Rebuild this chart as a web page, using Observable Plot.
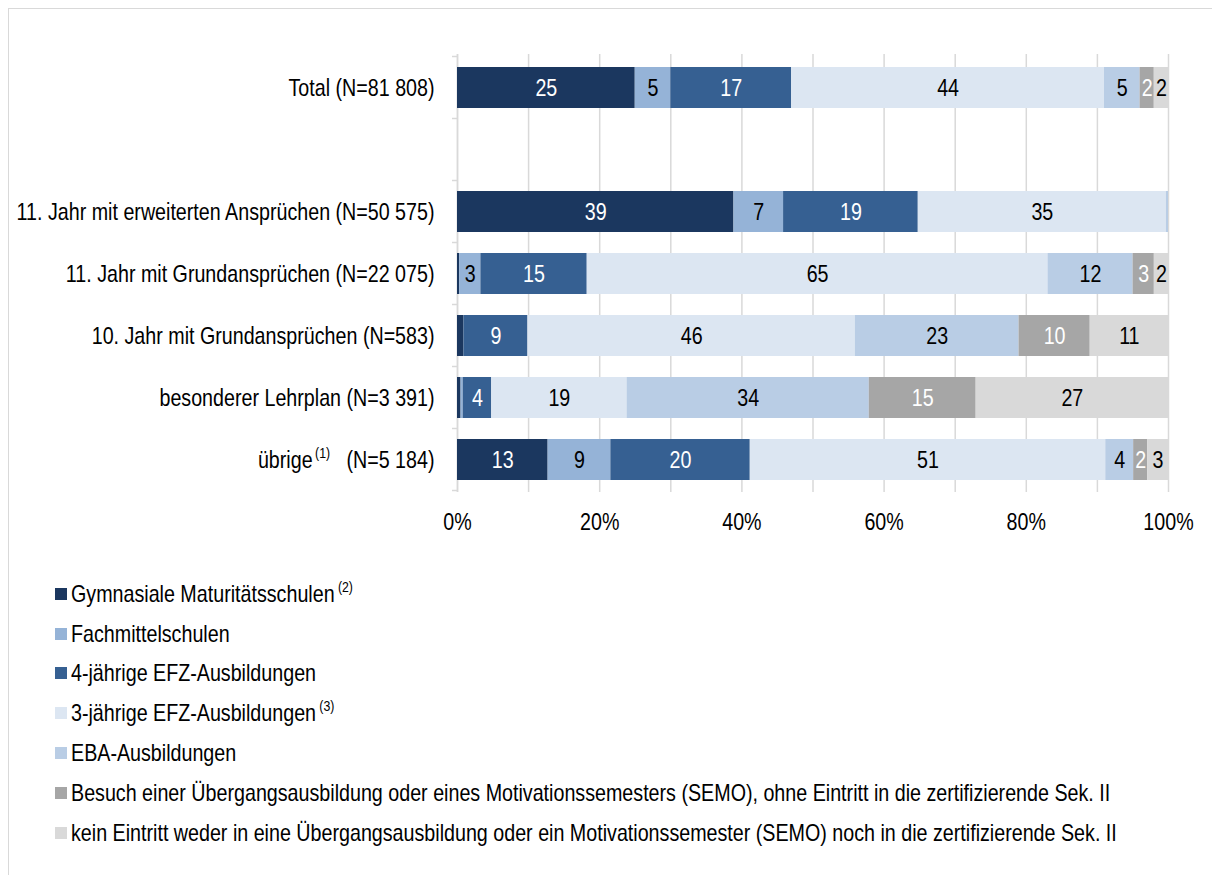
<!DOCTYPE html>
<html><head><meta charset="utf-8">
<script src="https://cdn.jsdelivr.net/npm/d3@7"></script>
<script src="https://cdn.jsdelivr.net/npm/@observablehq/plot@0.6"></script>
<style>
body{margin:0;background:#fff;font-family:'Liberation Sans',Arial,sans-serif;}
#frame{position:absolute;left:8px;top:8px;width:1230px;height:900px;border:1px solid #d9d9d9;box-sizing:border-box;}
#chart{position:absolute;left:0;top:0;}
#legend{position:absolute;left:55px;top:574px;}
.item{height:39.8px;display:flex;align-items:center;font-size:24px;color:#000;white-space:nowrap;}
.sw{width:12px;height:12px;margin-right:4px;flex:none}
.lbl{display:inline-block;transform:scaleX(0.82);transform-origin:0 50%;}
.sup{font-size:15px;position:relative;top:-10px;margin-left:4px}
</style>
</head><body>
<div id="frame"></div>
<div id="chart"></div>
<div id="legend"></div>
<script>
const categories = ["Total (N=81 808)", "", "11. Jahr mit erweiterten Ansprüchen (N=50 575)", "11. Jahr mit Grundansprüchen (N=22 075)", "10. Jahr mit Grundansprüchen (N=583)", "besonderer Lehrplan (N=3 391)", "übrige (N=5 184)"];
const rows = ["Total (N=81 808)", "11. Jahr mit erweiterten Ansprüchen (N=50 575)", "11. Jahr mit Grundansprüchen (N=22 075)", "10. Jahr mit Grundansprüchen (N=583)", "besonderer Lehrplan (N=3 391)", "übrige (N=5 184)"];
const series = ["Gymnasiale Maturitätsschulen", "Fachmittelschulen", "4-jährige EFZ-Ausbildungen", "3-jährige EFZ-Ausbildungen", "EBA-Ausbildungen", "Besuch einer Übergangsausbildung oder eines Motivationssemesters (SEMO), ohne Eintritt in die zertifizierende Sek. II", "kein Eintritt weder in eine Übergangsausbildung oder ein Motivationssemester (SEMO) noch in die zertifizierende Sek. II"];
const seriesNotes = ["(2)", "", "", "(3)", "", "", ""];
const colors = ["#1b375f", "#95b3d7", "#366092", "#dce6f2", "#b9cde5", "#a6a6a6", "#d9d9d9"];
const whiteLabelSeries = ["Gymnasiale Maturitätsschulen", "4-jährige EFZ-Ausbildungen", "Besuch einer Übergangsausbildung oder eines Motivationssemesters (SEMO), ohne Eintritt in die zertifizierende Sek. II"];

const gymnasium    = [25, 39, 0.3, 0.9, 0.5, 13];
const fachmittel   = [5, 7, 3, 0, 0.3, 9];
const efz4         = [17, 19, 15, 9, 4, 20];
const efz3         = [44, 35, 65, 46, 19, 51];
const eba          = [5, 0.3, 12, 23, 34, 4];
const uebergang    = [2, 0, 3, 10, 15, 2];
const keinEintritt = [2, 0, 2, 11, 27, 3];
const xTicks = [0, 0.2, 0.4, 0.6, 0.8, 1];
const gridTicks = [0, 0.1, 0.2, 0.3, 0.4, 0.5, 0.6, 0.7, 0.8, 0.9, 1];

const seriesValues = [gymnasium, fachmittel, efz4, efz3, eba, uebergang, keinEintritt];
const data = [];
rows.forEach((r, i) => seriesValues.forEach((arr, j) => data.push({row: r, series: series[j], value: arr[i]})));

const FONT = "'Liberation Sans',Arial,sans-serif";
const CONDENSE = 0.82;
const labelText = (white) => d => (d.value >= 2 && whiteLabelSeries.includes(d.series) === white) ? String(Math.round(d.value)) : "";

const plot = Plot.plot({
  width: 1212, height: 540,
  marginLeft: 457, marginRight: 44, marginTop: 54, marginBottom: 48,
  style: {fontFamily: FONT, fontSize: "24px", background: "transparent", color: "#000", overflow: "visible"},
  x: {domain: [0, 1]},
  y: {domain: categories, paddingInner: 0.345, paddingOuter: 0.1725},
  color: {domain: series, range: colors},
  marks: [
    Plot.gridX(gridTicks, {stroke: "#d9d9d9", strokeOpacity: 1, strokeWidth: 1.5}),
    Plot.ruleX([0], {stroke: "#d9d9d9", strokeWidth: 1.5}),
    Plot.barX(data, Plot.stackX({x: "value", y: "row", fill: "series", order: series, offset: "normalize"})),
    Plot.text(data, Plot.stackX({x: "value", y: "row", z: "series", order: series, offset: "normalize", text: labelText(true), fill: "#fff", fontSize: 24})),
    Plot.text(data, Plot.stackX({x: "value", y: "row", z: "series", order: series, offset: "normalize", text: labelText(false), fill: "#000", fontSize: 24})),
    Plot.axisX({ticks: xTicks, tickFormat: d => Math.round(d * 100) + "%", tickSize: 0, tickPadding: 20.5, label: null}),
    Plot.axisY({tickSize: 0, tickPadding: 23, label: null})
  ]
});
document.getElementById("chart").appendChild(plot);

const svg = d3.select(plot);
// drop empty label elements (segments whose label belongs to the other colour group or is too narrow)
svg.selectAll("text").filter(function() { return !this.textContent; }).remove();

// y-axis tick marks at band boundaries (from the plot's own scales)
const ys = plot.scale("y"), xs = plot.scale("x");
const x0 = xs.apply(0);
const bounds = categories.map(c => ys.apply(c) - (ys.step - ys.bandwidth) / 2);
bounds.push(ys.apply(categories[categories.length - 1]) + ys.bandwidth + (ys.step - ys.bandwidth) / 2);
svg.append("g").selectAll("line").data(bounds).join("line")
  .attr("x1", x0 - 5).attr("x2", x0).attr("y1", d => d).attr("y2", d => d)
  .attr("stroke", "#d9d9d9").attr("stroke-width", 1.5);

// superscript footnote in the "übrige" label
svg.selectAll("text").each(function() {
  const t = d3.select(this);
  if (t.text() === "übrige (N=5 184)") {
    t.text(null);
    t.append("tspan").text("übrige");
    t.append("tspan").attr("font-size", 15).attr("dy", -10).attr("dx", 3).text("(1)");
    t.append("tspan").attr("dy", 10).text("\u00a0\u00a0\u00a0(N=5 184)");
  }
});

// condense text horizontally about its anchor (the reference uses a narrow face)
svg.selectAll("text").each(function() {
  const bb = this.getBBox();
  if (!bb.width) return;
  const anchor = getComputedStyle(this).textAnchor;
  const ax = anchor === "end" ? bb.x + bb.width : anchor === "middle" ? bb.x + bb.width / 2 : bb.x;
  const prev = this.getAttribute("transform") || "";
  this.setAttribute("transform", `${prev} translate(${ax},0) scale(${CONDENSE},1) translate(${-ax},0)`);
});

// legend
const legend = d3.select("#legend");
series.forEach((s, i) => {
  const item = legend.append("div").attr("class", "item");
  item.append("div").attr("class", "sw").style("background", colors[i]);
  const lbl = item.append("span").attr("class", "lbl");
  lbl.append("span").text(s);
  if (seriesNotes[i]) lbl.append("span").attr("class", "sup").text(seriesNotes[i]);
});
</script>
</body></html>
